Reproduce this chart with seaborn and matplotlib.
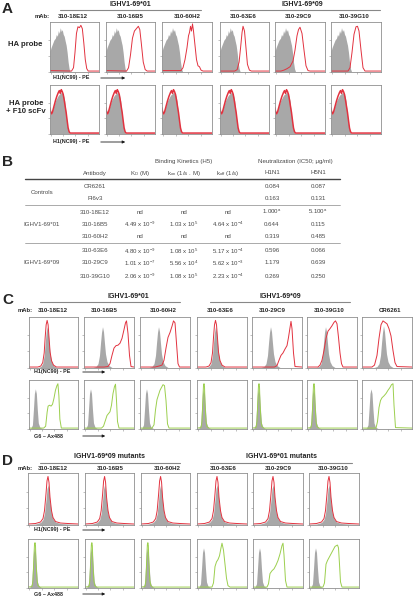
import matplotlib
matplotlib.use("Agg")
import matplotlib.pyplot as plt
import seaborn as sns

sns.set_theme(style="white")
plt.rcParams["font.family"] = ["Liberation Sans", "DejaVu Sans"]
plt.rcParams["mathtext.default"] = "regular"

GRAY = "#a8a8a8"
RED = "#e2323f"
GREEN = "#9ccf4e"
FRAME = "#8f8f8f"
TXT = "#4a4a4a"

# ---------------- histogram outlines (x, y in % of the box) -------------
# panel A, HA probe row
A_GRAY = [(0, 42), (2, 50), (5, 58), (8, 66), (11, 70), (13, 78), (15, 74), (17, 86), (19, 80),
          (21, 92), (23, 84), (25, 88), (27, 78), (29, 74), (31, 64), (33, 55), (35, 40), (37, 20),
          (39, 6), (41, 0), (100, 0)]
A_RED = [
    [(0, 2), (44, 1), (48, 8), (51, 40), (54, 80), (57, 94), (60, 92), (63, 97), (66, 90), (69, 60),
     (72, 25), (75, 6), (78, 1), (100, 1)],
    [(0, 2), (42, 1), (46, 8), (50, 35), (54, 70), (58, 85), (62, 90), (66, 95), (69, 88), (72, 60),
     (76, 20), (80, 4), (84, 1), (100, 1)],
    [(0, 2), (38, 2), (42, 8), (46, 25), (50, 50), (53, 75), (55, 82), (57, 95), (59, 85), (61, 100),
     (63, 85), (66, 55), (69, 25), (72, 12), (75, 10), (78, 3), (82, 1), (100, 1)],
    [(0, 1), (30, 1), (35, 4), (39, 20), (42, 50), (45, 82), (47, 95), (50, 85), (53, 50), (56, 15),
     (60, 3), (64, 1), (100, 1)],
    [(0, 1), (12, 1), (18, 3), (24, 6), (30, 10), (36, 22), (40, 45), (44, 75), (47, 88), (50, 93),
     (54, 80), (58, 45), (62, 12), (66, 2), (70, 1), (100, 1)],
    [(0, 1), (34, 1), (38, 8), (42, 40), (46, 78), (50, 94), (53, 95), (56, 85), (60, 45), (64, 8),
     (68, 1), (100, 1)],
]
# panel A, HA probe + F10 scFv row
A2_GRAY = [(0, 40), (2, 42), (5, 50), (8, 60), (11, 70), (14, 76), (17, 82), (20, 85), (23, 88),
           (26, 86), (28, 80), (30, 70), (32, 50), (34, 30), (36, 12), (38, 3), (40, 0), (100, 0)]
A2_RED = [(0, 55), (1, 48), (3, 42), (5, 46), (8, 58), (11, 70), (14, 80), (17, 88), (19, 92),
          (21, 86), (23, 94), (25, 90), (27, 84), (29, 72), (31, 58), (33, 45), (35, 28), (37, 12),
          (39, 4), (41, 1), (45, 1), (100, 1)]

# panel C, H1(NC99)-PE row
C_GRAY_PE = [(0, 0), (18, 0), (24, 2), (28, 8), (31, 25), (33, 50), (35, 72), (37, 84), (39, 74),
             (41, 50), (43, 28), (46, 12), (50, 4), (56, 0), (100, 0)]
C_GRAY_PE_CR = [(0, 0), (24, 0), (30, 2), (34, 8), (37, 25), (39, 50), (41, 72), (43, 86), (45, 74),
                (47, 50), (49, 28), (52, 12), (56, 4), (62, 0), (100, 0)]
C_RED_NARROW = [(0, 1), (18, 1), (24, 3), (28, 10), (31, 30), (33, 62), (35, 88), (37, 97), (39, 88),
                (41, 60), (43, 32), (46, 14), (50, 5), (56, 1), (100, 1)]
C_RED = [
    C_RED_NARROW,
    [(0, 1), (40, 1), (48, 2), (52, 8), (56, 25), (60, 40), (64, 45), (68, 46), (72, 50), (76, 60),
     (80, 78), (83, 92), (85, 96), (88, 70), (91, 25), (94, 2), (100, 1)],
    [(0, 1), (30, 1), (38, 3), (44, 5), (48, 15), (52, 40), (56, 62), (60, 72), (64, 85), (67, 96),
     (70, 92), (73, 50), (76, 8), (79, 1), (100, 1)],
    C_RED_NARROW,
    [(0, 1), (45, 1), (50, 4), (54, 15), (58, 25), (62, 30), (66, 38), (70, 45), (73, 62), (76, 82),
     (78, 95), (80, 80), (83, 30), (86, 2), (100, 1)],
    [(0, 1), (22, 1), (26, 5), (30, 15), (34, 35), (38, 60), (42, 75), (46, 80), (50, 86), (54, 93),
     (57, 96), (60, 90), (63, 62), (66, 30), (69, 8), (72, 1), (100, 1)],
    [(0, 1), (20, 1), (25, 5), (30, 25), (34, 60), (38, 88), (42, 96), (46, 93), (50, 90), (54, 80),
     (58, 65), (62, 35), (66, 10), (70, 2), (100, 1)],
]
# panel C, G6-Ax488 row
C_GRAY_AX = [(0, 0), (4, 1), (7, 8), (9, 40), (11, 75), (13, 85), (15, 75), (17, 40), (19, 12),
             (22, 3), (27, 0), (100, 0)]
C_GRAY_AX_CR = [(0, 0), (9, 1), (12, 8), (14, 40), (16, 75), (18, 85), (20, 75), (22, 40), (24, 12),
                (27, 3), (32, 0), (100, 0)]
GREEN_NARROW = [(0, 1), (8, 2), (10, 15), (12, 70), (13, 92), (14, 96), (15, 90), (16, 55), (18, 15),
                (20, 4), (24, 1), (100, 1)]
C_GREEN = [
    [(0, 1), (30, 1), (34, 5), (37, 35), (39, 48), (42, 50), (45, 48), (48, 52), (51, 65), (54, 82),
     (57, 92), (59, 96), (61, 70), (63, 20), (66, 1), (100, 1)],
    [(0, 1), (35, 1), (39, 5), (43, 18), (46, 28), (49, 32), (52, 36), (55, 50), (58, 75), (61, 90),
     (63, 95), (65, 60), (67, 15), (70, 1), (100, 1)],
    [(0, 1), (24, 1), (28, 8), (31, 40), (34, 62), (37, 72), (40, 82), (43, 88), (46, 94), (49, 92),
     (52, 60), (55, 10), (58, 1), (100, 1)],
    GREEN_NARROW,
    GREEN_NARROW,
    GREEN_NARROW,
    [(0, 1), (28, 1), (31, 15), (34, 45), (37, 60), (40, 66), (44, 70), (48, 75), (52, 82), (56, 88),
     (59, 94), (62, 96), (64, 50), (67, 2), (100, 1)],
]
# panel D
D_GRAY_PE = [(0, 0), (15, 1), (25, 4), (30, 10), (33, 22), (36, 50), (38, 72), (40, 80), (42, 68),
             (44, 45), (47, 22), (50, 12), (55, 5), (65, 2), (80, 1), (100, 0)]
D_RED_PE = [(0, 1), (15, 2), (25, 5), (30, 12), (33, 28), (36, 62), (38, 88), (40, 97), (42, 85),
            (44, 55), (47, 28), (50, 14), (55, 6), (65, 3), (80, 2), (100, 1)]
D_GREEN = [
    GREEN_NARROW,
    GREEN_NARROW,
    GREEN_NARROW,
    [(0, 1), (30, 1), (33, 10), (36, 45), (39, 55), (42, 60), (45, 68), (48, 85), (50, 95), (53, 80),
     (56, 50), (59, 20), (62, 4), (66, 1), (100, 1)],
    [(0, 1), (28, 1), (31, 8), (34, 30), (38, 36), (42, 40), (46, 48), (50, 58), (54, 72), (58, 90),
     (60, 95), (62, 70), (65, 15), (68, 1), (100, 1)],
    [(0, 1), (28, 1), (31, 10), (34, 50), (37, 58), (40, 64), (44, 72), (48, 80), (52, 88), (55, 90),
     (57, 91), (59, 85), (61, 50), (63, 12), (66, 1), (100, 1)],
]

# ---------------- table (panel B) ----------------
GROUPS = ["Controls", "IGHV1-69*01", "IGHV1-69*09"]
ANTIBODIES = ["CR6261", "FI6v3", "310-18E12", "310-16B5", "310-60H2", "310-63E6", "310-29C9",
              "310-39G10"]
KD = ["", "", "nd", "4.49 x 10$^{-9}$", "nd", "4.80 x 10$^{-9}$", "1.01 x 10$^{-7}$",
      "2.06 x 10$^{-9}$"]
KON = ["", "", "nd", "1.03 x 10$^{5}$", "nd", "1.08 x 10$^{5}$", "5.56 x 10$^{4}$", "1.08 x 10$^{5}$"]
KOFF = ["", "", "nd", "4.64 x 10$^{-4}$", "nd", "5.17 x 10$^{-4}$", "5.62 x 10$^{-3}$",
        "2.23 x 10$^{-4}$"]
H1N1 = ["0.084", "0.163", "1.000$^{a}$", "0.644", "0.319", "0.596", "1.179", "0.269"]
H5N1 = ["0.087", "0.131", "5.100$^{a}$", "0.115", "0.485", "0.066", "0.639", "0.250"]

MABS = ["310-18E12", "310-16B5", "310-60H2", "310-63E6", "310-29C9", "310-39G10"]

W, H = 416, 600
fig = plt.figure(figsize=(W / 100, H / 100), dpi=100)
bg = fig.add_axes([0, 0, 1, 1])
bg.set_xlim(0, W)
bg.set_ylim(H, 0)
bg.axis("off")


def xy(pts):
    return [p[0] for p in pts], [p[1] for p in pts]


def box(x0, x1, y0, y1):
    ax = fig.add_axes([x0 / W, 1 - y1 / H, (x1 - x0) / W, (y1 - y0) / H])
    ax.set_xlim(0, 100)
    ax.set_ylim(-1, 104)
    ax.set_xticks([2, 27, 52, 77])
    ax.set_yticks([0, 33, 66])
    ax.tick_params(length=1.5, width=0.4, colors=FRAME, labelbottom=False, labelleft=False,
                   bottom=True, left=True, direction="out", pad=0)
    for s in ax.spines.values():
        s.set_color(FRAME)
        s.set_linewidth(0.6)
    return ax


def hist(ax, gray, line, color, lw=0.7):
    gx, gy = xy(gray)
    ax.fill_between(gx, gy, color=GRAY, lw=0)
    lx, ly = xy(line)
    sns.lineplot(x=lx, y=ly, ax=ax, color=color, lw=lw, estimator=None, sort=False)
    ax.set_xlabel("")
    ax.set_ylabel("")


def letter(s, x, y):
    bg.text(x, y, s, fontsize=11, fontweight="bold", va="center", ha="left")


def group(s, xc, y, xa, xb):
    bg.text(xc, y, s, fontsize=5, fontweight="bold", ha="center", va="center", color="#222")
    bg.plot([xa, xb], [y + 6, y + 6], color="#888", lw=0.8)


def axis_label(s, x, y, xa, xb):
    bg.text(x, y, s, fontsize=3.9, fontweight="bold", ha="left", va="center")
    bg.annotate("", xy=(xb, y), xytext=(xa, y),
                arrowprops=dict(arrowstyle="-|>", lw=0.6, color="k", mutation_scale=4))


def col_labels(names, xs, y, xm):
    bg.text(xm, y, "mAb:", fontsize=4.2, fontweight="bold", ha="right", va="center")
    for n, x in zip(names, xs):
        bg.text(x, y, n, fontsize=4.4, fontweight="bold", ha="center", va="center")


# ---------------- panel A ----------------
letter("A", 2, 9)
group("IGHV1-69*01", 130, 4, 60, 201)
group("IGHV1-69*09", 302, 4, 230, 380)
col_labels(MABS, [73, 130, 187, 243, 298, 354], 16, 50)
A_X = [(50, 99), (106, 155), (162, 212), (220, 269), (275, 325), (331, 381)]
bg.text(8, 45, "HA probe", fontsize=5.6, fontweight="bold", ha="left", va="center")
for (x0, x1), red in zip(A_X, A_RED):
    hist(box(x0, x1, 22, 72), A_GRAY, red, RED, 0.7)
axis_label("H1(NC99) - PE", 53, 78, 98, 128)
bg.text(26, 107.5, "HA probe\n+ F10 scFv", fontsize=5.6, fontweight="bold", ha="center",
        va="center", linespacing=1.1)
for x0, x1 in A_X:
    hist(box(x0, x1, 85, 134), A2_GRAY, A2_RED, RED, 1.1)
axis_label("H1(NC99) - PE", 53, 142, 98, 128)

# ---------------- panel B ----------------
letter("B", 2, 162)
bg.text(184, 161, "Binding Kinetics (H5)", fontsize=4.4, color=TXT, ha="center", va="center")
bg.text(295, 161, "Neutralization (IC50; μg/ml)", fontsize=4.4, color=TXT, ha="center",
        va="center")
COLS = [95, 140, 184, 228, 272, 318]
HEAD = ["Antibody", "K$_{D}$ (M)", "k$_{on}$ (1/s . M)", "k$_{off}$ (1/s)", "H1N1", "H5N1"]
for x, hname in zip(COLS, HEAD):
    bg.text(x, 173, hname, fontsize=4.4, color=TXT, ha="center", va="center")
bg.plot([25, 340], [179, 179], color="#444", lw=1.0)
bg.plot([25, 340], [205, 205], color="#888", lw=0.5)
bg.plot([25, 340], [243, 243], color="#888", lw=0.5)
ROW_Y = [186, 199, 212, 224, 237, 251, 263, 276]
for g, y in zip(GROUPS, [192.5, 224, 263]):
    bg.text(42, y, g, fontsize=4.4, color=TXT, ha="center", va="center")
for i, y in enumerate(ROW_Y):
    for x, col in zip(COLS, [ANTIBODIES, KD, KON, KOFF, H1N1, H5N1]):
        bg.text(x, y, col[i], fontsize=4.4, color=TXT, ha="center", va="center")

# ---------------- panel C ----------------
letter("C", 2, 300)
group("IGHV1-69*01", 128, 296, 40, 180)
group("IGHV1-69*09", 280, 296, 210, 350)
col_labels(MABS + ["CR6261"], [53, 104, 163, 220, 272, 329, 390], 311, 33)
C_X = [(29, 78), (84, 134), (140, 190), (197, 247), (252, 302), (307, 357), (362, 412)]
for i, ((x0, x1), red) in enumerate(zip(C_X, C_RED)):
    gray = C_GRAY_PE_CR if i == 6 else C_GRAY_PE
    hist(box(x0, x1, 317, 368), gray, red, RED, 0.7)
axis_label("H1(NC99) - PE", 34, 372, 80, 108)
for i, ((x0, x1), grn) in enumerate(zip(C_X, C_GREEN)):
    gray = C_GRAY_AX_CR if i == 6 else C_GRAY_AX
    hist(box(x0, x1, 380, 429), gray, grn, GREEN, 0.7)
axis_label("G6 – Ax488", 34, 436, 80, 108)

# ---------------- panel D ----------------
letter("D", 2, 461)
group("IGHV1-69*09 mutants", 110, 457, 40, 180)
group("IGHV1-69*01 mutants", 282, 457, 210, 352)
col_labels(MABS, [53, 110, 167, 223, 278, 333], 469, 33)
D_X = [(28, 78), (85, 134), (141, 190), (197, 247), (253, 303), (309, 359)]
for x0, x1 in D_X:
    hist(box(x0, x1, 473, 525), D_GRAY_PE, D_RED_PE, RED, 0.7)
axis_label("H1(NC99) - PE", 34, 530, 80, 108)
for (x0, x1), grn in zip(D_X, D_GREEN):
    hist(box(x0, x1, 539, 588), C_GRAY_AX, grn, GREEN, 0.7)
axis_label("G6 – Ax488", 34, 594, 80, 108)

fig.savefig("out.png", dpi=100)
